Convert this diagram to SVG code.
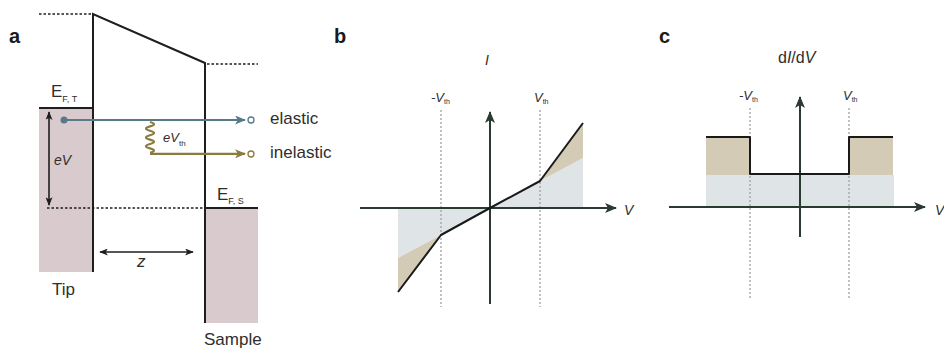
<svg xmlns="http://www.w3.org/2000/svg" width="944" height="350" viewBox="0 0 944 350">
<defs>
<style>
text{font-family:"Liberation Sans",Arial,sans-serif;fill:#2e2e2e}
.lbl{font-size:20px;font-weight:bold;fill:#1a1a1a}
.t17{font-size:17px}
.it{font-style:italic}
.blk{stroke:#1e1e1e;stroke-width:2;fill:none}
.dot{stroke:#1e1e1e;stroke-width:1.6;stroke-dasharray:2.5 2;fill:none}
.gdot{stroke:#9a9a9a;stroke-width:1.2;stroke-dasharray:2 2;fill:none}
.axis{stroke:#2b3a30;stroke-width:2;fill:none}
.pink{fill:#d8cacd}
.tan{fill:#d3cbb5}
.lb{fill:#dfe4e6}
.curve{stroke:#1a1a1a;stroke-width:2;fill:none;stroke-linejoin:round}
</style>
<marker id="ax" viewBox="0 0 12 10" refX="11" refY="5" markerWidth="12" markerHeight="10" markerUnits="userSpaceOnUse" orient="auto">
<path d="M0,0 L12,5 L0,10 L3,5 z" fill="#2b3a30"/>
</marker>
<marker id="ab" viewBox="0 0 12 10" refX="11" refY="5" markerWidth="12" markerHeight="9" markerUnits="userSpaceOnUse" orient="auto">
<path d="M0,0 L12,5 L0,10 L3,5 z" fill="#587a86"/>
</marker>
<marker id="ao" viewBox="0 0 12 10" refX="11" refY="5" markerWidth="12" markerHeight="9" markerUnits="userSpaceOnUse" orient="auto">
<path d="M0,0 L12,5 L0,10 L3,5 z" fill="#8b7b40"/>
</marker>
<marker id="ak" viewBox="0 0 10 8" refX="9" refY="4" markerWidth="9" markerHeight="7" markerUnits="userSpaceOnUse" orient="auto-start-reverse">
<path d="M0,0 L10,4 L0,8 L2.5,4 z" fill="#1e1e1e"/>
</marker>
</defs>

<g id="panel-a">
<text class="lbl" x="9" y="43">a</text>
<rect class="pink" x="39" y="108" width="54" height="164"/>
<rect class="pink" x="205" y="208" width="53" height="115"/>
<path class="dot" d="M39,14 H93"/>
<path class="dot" d="M207,64 H258"/>
<path class="dot" d="M47,208 H205"/>
<path class="blk" d="M93,272 V14 L205,63 V323"/>
<path class="blk" d="M39,108 H93"/>
<path class="blk" d="M205,208 H258"/>
<text class="t17" x="51" y="97">E<tspan font-size="9" dy="5">F, T</tspan></text>
<text class="t17" x="217" y="200">E<tspan font-size="9" dy="4">F, S</tspan></text>
<text class="it" font-size="14" x="54" y="165">eV</text>
<text class="it" font-size="13" x="163" y="142">eV<tspan font-size="8" font-style="normal" dy="4">th</tspan></text>
<text class="t17" x="270" y="124">elastic</text>
<text class="t17" x="270" y="158">inelastic</text>
<text class="it" font-size="17" x="137" y="267">z</text>
<text class="t17" x="52" y="295">Tip</text>
<text class="t17" x="204" y="345">Sample</text>
</g>

<g id="panel-b">
<text class="lbl" x="334" y="43">b</text>
<polygon class="lb" points="490,208 540,181 583,158 583,208"/>
<polygon class="tan" points="540,181 583,123 583,158"/>
<polygon class="lb" points="398,208 490,208 441,235 398,258"/>
<polygon class="tan" points="398,258 441,235 398,292"/>
<path class="gdot" d="M441,110 V307"/>
<path class="gdot" d="M540,110 V307"/>
<text class="it" font-size="14" x="485" y="65">I</text>
<text class="it" font-size="13" x="431" y="102">-V<tspan font-size="7" font-style="normal" dy="2">th</tspan></text>
<text class="it" font-size="13" x="534" y="102">V<tspan font-size="7" font-style="normal" dy="2">th</tspan></text>
<text class="it" font-size="14" x="624" y="215">V</text>
</g>

<g id="panel-c">
<text class="lbl" x="659" y="43">c</text>
<rect class="lb" x="706" y="175" width="188" height="32"/>
<rect class="tan" x="706" y="138" width="44" height="37"/>
<rect class="tan" x="849" y="138" width="44" height="37"/>
<path class="gdot" d="M750,108 V300"/>
<path class="gdot" d="M849,108 V300"/>
<text font-size="16" x="778" y="63">d<tspan class="it">I</tspan>/d<tspan class="it">V</tspan></text>
<text class="it" font-size="13" x="739" y="100">-V<tspan font-size="7" font-style="normal" dy="2">th</tspan></text>
<text class="it" font-size="13" x="843" y="100">V<tspan font-size="7" font-style="normal" dy="2">th</tspan></text>
<text class="it" font-size="14" x="935" y="215">V</text>
</g>

<g id="connectors">
<path d="M64,120 H245" stroke="#587a86" stroke-width="2.2" fill="none" marker-end="url(#ab)"/>
<circle cx="64" cy="120" r="3.5" fill="#587a86"/>
<circle cx="251" cy="120" r="3" fill="#fff" stroke="#587a86" stroke-width="1.3"/>
<path d="M150,122 q8,2.2 0,4.4 q-8,2.2 0,4.4 q8,2.2 0,4.4 q-8,2.2 0,4.4 q8,2.2 0,4.4 q-8,2.2 0,4.4 q8,2.2 0,4.4 M150,153.8 H245" stroke="#8b7b40" stroke-width="2.2" fill="none" marker-end="url(#ao)"/>
<circle cx="251" cy="154" r="3" fill="#fff" stroke="#8b7b40" stroke-width="1.3"/>
<path d="M49,112 V205" stroke="#1e1e1e" stroke-width="1.6" fill="none" marker-start="url(#ak)" marker-end="url(#ak)"/>
<path d="M100,252 H193" stroke="#1e1e1e" stroke-width="1.6" fill="none" marker-start="url(#ak)" marker-end="url(#ak)"/>
<path class="axis" d="M490,304 V112" marker-end="url(#ax)"/>
<path class="axis" d="M360,208 H616" marker-end="url(#ax)"/>
<polyline class="curve" points="398,292 441,235 490,208 540,181 583,123"/>
<path class="axis" d="M800,237 V97" marker-end="url(#ax)"/>
<path class="axis" d="M669,207 H925" marker-end="url(#ax)"/>
<polyline class="curve" points="706,137 750,137 750,174 849,174 849,137 893,137"/>
</g>
</svg>
